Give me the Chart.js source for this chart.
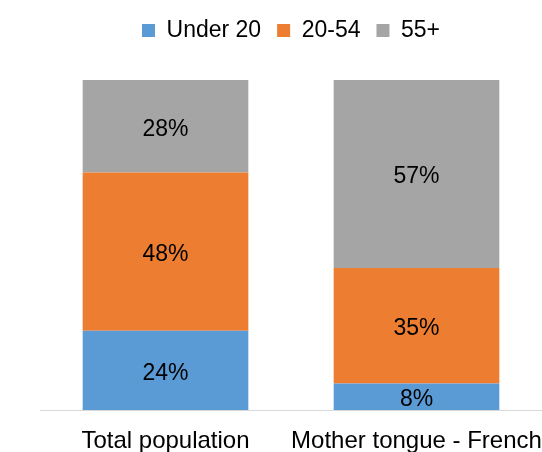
<!DOCTYPE html>
<html>
<head>
<meta charset="utf-8">
<script src="https://cdn.jsdelivr.net/npm/chart.js@4/dist/chart.umd.min.js"></script>
<style>
  html, body { margin: 0; padding: 0; background: #fff; }
  canvas { display: block; }
</style>
</head>
<body>
<canvas id="ageChart" width="542" height="452"></canvas>
<script>
// data
const categories = ["Total population", "Mother tongue - French"];
const under20 = [24, 8];
const mid = [48, 35];
const over55 = [28, 57];

const FONT = "'Liberation Sans', Arial, sans-serif";

// draws "NN%" in the middle of each bar piece
const valueLabels = {
  id: "valueLabels",
  afterDatasetsDraw(chart) {
    const ctx = chart.ctx;
    ctx.save();
    ctx.font = "23px " + FONT;
    ctx.fillStyle = "#000";
    ctx.textAlign = "center";
    ctx.textBaseline = "middle";
    chart.data.datasets.forEach((ds, i) => {
      chart.getDatasetMeta(i).data.forEach((bar, j) => {
        const p = bar.getProps(["x", "y", "base"], true);
        ctx.fillText(ds.data[j] + "%", p.x, (p.y + p.base) / 2 + 3);
      });
    });
    ctx.restore();
  }
};

// extra room under the legend
const legendGap = {
  id: "legendGap",
  beforeInit(chart) {
    const fit = chart.legend.fit;
    chart.legend.fit = function () {
      fit.bind(chart.legend)();
      this.height += 28;
    };
  }
};

new Chart(document.getElementById("ageChart"), {
  type: "bar",
  data: {
    labels: categories,
    datasets: [
      { label: "Under 20", data: under20, backgroundColor: "#5B9BD5" },
      { label: "20-54", data: mid, backgroundColor: "#ED7D31" },
      { label: "55+", data: over55, backgroundColor: "#A5A5A5" }
    ]
  },
  options: {
    responsive: false,
    animation: false,
    layout: { padding: { left: 40, right: 0, top: 3, bottom: 0 } },
    datasets: {
      bar: { barPercentage: 0.66, categoryPercentage: 1 }
    },
    plugins: {
      legend: {
        position: "top",
        labels: {
          boxWidth: 13,
          boxHeight: 13,
          padding: 16,
          color: "#000",
          font: { family: FONT, size: 23 }
        }
      },
      tooltip: { enabled: false }
    },
    scales: {
      x: {
        stacked: true,
        grid: { display: false },
        border: { color: "#D9D9D9", width: 1 },
        ticks: {
          color: "#000",
          padding: 9,
          maxRotation: 0,
          minRotation: 0,
          autoSkip: false,
          font: { family: FONT, size: 24 }
        },
        afterFit(scale) {
          scale.height = 42;
          scale.paddingLeft = 0;
          scale.paddingRight = 0;
        }
      },
      y: {
        stacked: true,
        display: false,
        min: 0,
        max: 100
      }
    }
  },
  plugins: [valueLabels, legendGap]
});
</script>
</body>
</html>
